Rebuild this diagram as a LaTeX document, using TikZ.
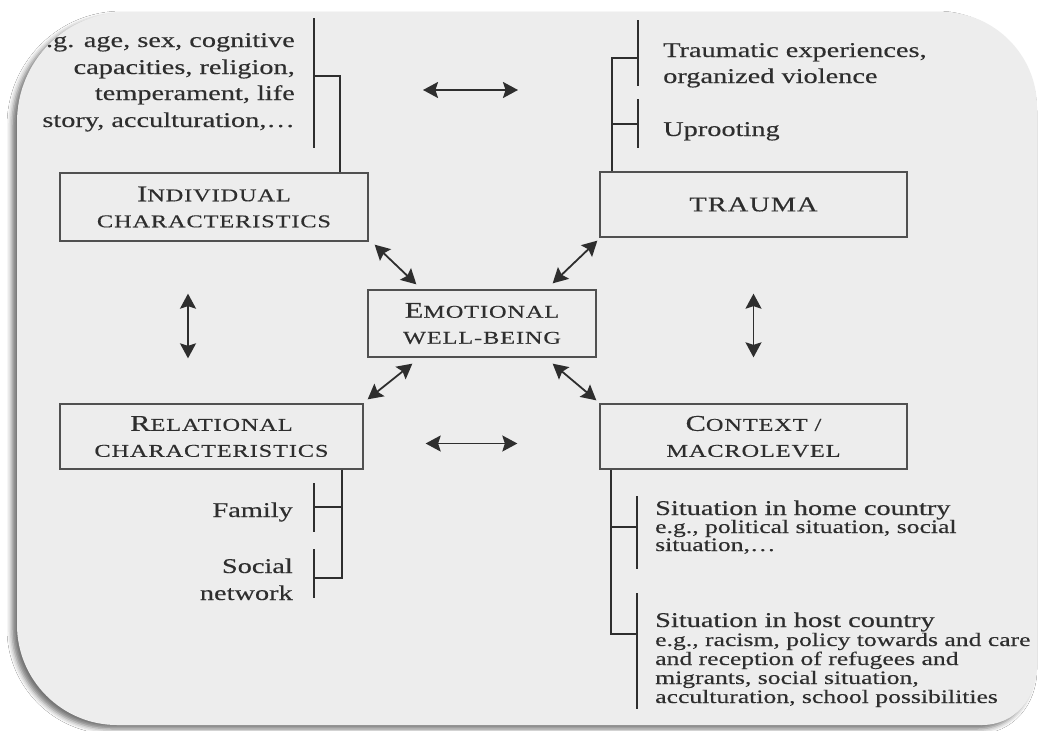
\documentclass[tikz,border=0pt]{standalone}
\usepackage{fontspec}
\setmainfont{Liberation Serif}[FakeStretch=1.35, FakeBold=0.35]
\newfontfamily\boxfont{Liberation Serif}[FakeStretch=1.35, FakeBold=0.45, LetterSpace=5]
\usetikzlibrary{arrows.meta,calc,shadows.blur}

\definecolor{ink}{HTML}{2E2E2E}
\definecolor{boxc}{HTML}{505050}
\definecolor{paper}{HTML}{EDEDED}

\newcommand\fsz[1]{\fontsize{#1}{26}\selectfont}
\newcommand\fsc[2]{{\fsz{22.5}#1}{\fsz{18}#2}}

\tikzset{
  box/.style={draw=boxc, line width=1.3pt, inner sep=0pt, align=center,
              text=ink, font=\boxfont\fsz{18}},
  txt/.style={text=ink, inner sep=0pt, font=\fontsize{21}{21}\selectfont},
  small/.style={text=ink, inner sep=0pt, font=\fontsize{19}{19}\selectfont},
  ln/.style={draw=ink, line width=1.6pt},
  dbl/.style={draw=ink, line width=1.8pt,
              {Stealth[length=15pt,width=16pt,inset=2.5pt]}-{Stealth[length=15pt,width=16pt,inset=2.5pt]}}
}

\begin{document}
\begin{tikzpicture}[x=1pt,y=-1pt]
\useasboundingbox (0,0) rectangle (1039,731);
\fill[white] (0,0) rectangle (1039,731);

% frame with shadow
\fill[paper, blur shadow={shadow xshift=-5pt, shadow yshift=-4pt, shadow blur radius=5pt, shadow opacity=55}]
  (17,122) .. controls (17,61) and (66,12) .. (127,12) -- (942,12)
  .. controls (994,12) and (1037,55) .. (1037,107) -- (1037,665)
  .. controls (1037,698) and (1015,725) .. (982,725) -- (117,725)
  .. controls (62,725) and (17,680) .. (17,625) -- cycle;

\begin{scope}
\clip
  (17,122) .. controls (17,61) and (66,12) .. (127,12) -- (942,12)
  .. controls (994,12) and (1037,55) .. (1037,107) -- (1037,665)
  .. controls (1037,698) and (1015,725) .. (982,725) -- (117,725)
  .. controls (62,725) and (17,680) .. (17,625) -- cycle;

% boxes
\node[box, minimum width=308pt, minimum height=68pt] (ind) at (214,207)
  {\fsc{I}{NDIVIDUAL}\\ CHARACTERISTICS};
\node[box, minimum width=307pt, minimum height=65pt] (trauma) at (753.5,204.5)
  {{\fsz{21}TRAUMA}};
\node[box, minimum width=228pt, minimum height=67pt] (emo) at (482,323.5)
  {\fsc{E}{MOTIONAL}\\ WELL-BEING};
\node[box, minimum width=303pt, minimum height=65pt] (rel) at (211.5,436.5)
  {\fsc{R}{ELATIONAL}\\ CHARACTERISTICS};
\node[box, minimum width=307pt, minimum height=65pt] (ctx) at (753.5,436.5)
  {\fsc{C}{ONTEXT /}\\ MACROLEVEL};

% individual characteristics text
\node[txt, anchor=base east] (i1) at (295,47)  {e.g. age, sex, cognitive};
\node[txt, anchor=base east] (i2) at (295,74)  {capacities, religion,};
\node[txt, anchor=base east] (i3) at (295,100) {temperament, life};
\node[txt, anchor=base east] (i4) at (295,127) {story, acculturation,\ldots};
\coordinate (ibt) at (314,18);
\coordinate (ibb) at (314,148);
\coordinate (ij) at (340,76);
\draw[ln] (ibt) -- (ibb);
\draw[ln] (ind.north -| ij) -- (ij) -- (ij -| ibt);

% trauma text
\node[txt, anchor=base west] (t1) at (663,57)  {Traumatic experiences,};
\node[txt, anchor=base west] (t2) at (663,83)  {organized violence};
\node[txt, anchor=base west] (t3) at (663,136) {Uprooting};
\coordinate (tb1t) at (638,20);
\coordinate (tb1b) at (638,86);
\coordinate (tb2t) at (638,99);
\coordinate (tb2b) at (638,148);
\coordinate (tj1) at (612,58);
\coordinate (tj2) at (612,124);
\draw[ln] (tb1t) -- (tb1b);
\draw[ln] (tb2t) -- (tb2b);
\draw[ln] (trauma.north -| tj1) -- (tj1) -- (tj1 -| tb1t);
\draw[ln] (tj2) -- (tj2 -| tb2t);

% relational text
\node[txt, anchor=base east] (r1) at (293,517) {Family};
\node[txt, anchor=base east] (r2) at (293,573) {Social};
\node[txt, anchor=base east] (r3) at (293,600) {network};
\coordinate (rb1t) at (314,483);
\coordinate (rb1b) at (314,532);
\coordinate (rb2t) at (314,549);
\coordinate (rb2b) at (314,598);
\coordinate (rj1) at (342,507);
\coordinate (rj2) at (342,578);
\draw[ln] (rb1t) -- (rb1b);
\draw[ln] (rb2t) -- (rb2b);
\draw[ln] (rel.south -| rj1) -- (rj2) -- (rj2 -| rb2t);
\draw[ln] (rj1) -- (rj1 -| rb1t);

% context text
\node[txt, anchor=base west] (c1) at (655,515) {Situation in home country};
\node[small, anchor=base west] (c2) at (655,533) {e.g., political situation, social};
\node[small, anchor=base west] (c3) at (655,551) {situation,\ldots};
\node[txt, anchor=base west] (c4) at (655,627) {Situation in host country};
\node[small, anchor=base west] (c5) at (655,646) {e.g., racism, policy towards and care};
\node[small, anchor=base west] (c6) at (655,665) {and reception of refugees and};
\node[small, anchor=base west] (c7) at (655,684) {migrants, social situation,};
\node[small, anchor=base west] (c8) at (655,703) {acculturation, school possibilities};
\coordinate (cb1t) at (637,496);
\coordinate (cb1b) at (637,569);
\coordinate (cb2t) at (637,593);
\coordinate (cb2b) at (637,709);
\coordinate (cj1) at (611,527);
\coordinate (cj2) at (611,634);
\draw[ln] (cb1t) -- (cb1b);
\draw[ln] (cb2t) -- (cb2b);
\draw[ln] (ctx.south -| cj1) -- (cj2) -- (cj2 -| cb2t);
\draw[ln] (cj1) -- (cj1 -| cb1t);

% arrows
\coordinate (h1a) at (423,90);
\coordinate (h1b) at (518,90);
\draw[dbl] (h1a) -- (h1b);
\draw[dbl] ($(rel.east)+(62,7)$) -- ($(ctx.west)+(-82,7)$);
\draw[dbl] ($(ind.south)+(-26,52)$) -- ($(rel.north)+(-23.5,-45)$);
\draw[dbl] ($(trauma.south)+(0,56)$) -- ($(ctx.north)+(0,-46)$);
\draw[dbl] ($(ind.south east)+(6,3)$) -- ($(emo.north west)+(49,-5)$);
\draw[dbl] ($(trauma.south west)+(-2,3)$) -- ($(emo.north east)+(-44,-6)$);
\draw[dbl] ($(rel.north east)+(4,-4)$) -- ($(emo.south west)+(45,6)$);
\draw[dbl] ($(ctx.north west)+(-3,-3)$) -- ($(emo.south east)+(-44,6)$);
\end{scope}
\end{tikzpicture}
\end{document}
